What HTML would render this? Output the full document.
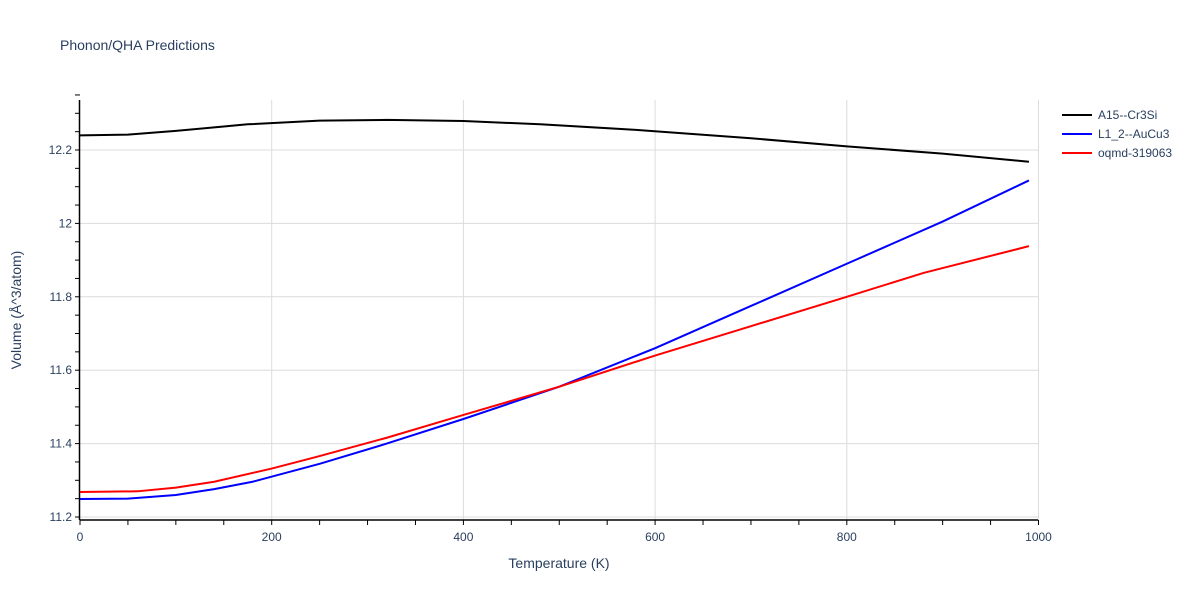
<!DOCTYPE html>
<html><head><meta charset="utf-8"><style>
body{margin:0;background:#fff;font-family:"Liberation Sans",sans-serif}
text{font-family:"Liberation Sans",sans-serif;fill:#2a3f5f}
</style></head><body>
<svg id="chart" width="1200" height="600">
<text x="60" y="50" font-size="14">Phonon/QHA Predictions</text>
<g id="grid"></g><g id="axes"></g><g id="series"></g>
<text x="559" y="568" font-size="14" text-anchor="middle">Temperature (K)</text>
<text transform="translate(21,310) rotate(-90)" font-size="14" text-anchor="middle">Volume (Å^3/atom)</text>
<g id="legend"></g>
</svg>
<script>
const xTicks=[0,200,400,600,800,1000];
const yTicks=[11.2,11.4,11.6,11.8,12,12.2];
const yTickLabels=["11.2","11.4","11.6","11.8","12","12.2"];
const names=["A15--Cr3Si","L1_2--AuCu3","oqmd-319063"];
const colors=["#000000","#0000ff","#ff0000"];
const tA=[0,50,100,175,250,320,400,480,580,700,800,900,990];
const vA=[12.240,12.242,12.252,12.270,12.280,12.282,12.279,12.270,12.255,12.232,12.210,12.190,12.168];
const tB=[0,50,100,140,180,250,320,400,500,600,700,800,900,990];
const vB=[11.249,11.250,11.260,11.276,11.296,11.345,11.400,11.467,11.555,11.660,11.775,11.890,12.005,12.117];
const tC=[0,60,100,140,200,250,320,400,500,600,700,800,880,990];
const vC=[11.268,11.270,11.280,11.296,11.332,11.366,11.416,11.478,11.555,11.640,11.720,11.800,11.865,11.938];
const NS="http://www.w3.org/2000/svg";
const X=t=>80+t*0.9585;
const Y=v=>517-(v-11.2)*367/1.0;
function mk(tag,parent,attrs){const e=document.createElementNS(NS,tag);for(const k in attrs)e.setAttribute(k,attrs[k]);document.getElementById(parent).appendChild(e);return e;}
xTicks.forEach(t=>{if(t>0){const l=mk('line','grid',{x1:X(t),x2:X(t),y1:100,y2:520,stroke:'#dcdcdc'});

}
const tx=mk('text','axes',{x:X(t),y:541,'font-size':12,'text-anchor':'middle'});tx.textContent=t;

});
yTicks.forEach((v,i)=>{const l=mk('line','grid',{x1:80,x2:1038,y1:Y(v),y2:Y(v),stroke:'#dcdcdc'});


const tx=mk('text','axes',{x:72,y:Y(v)+4,'font-size':12,'text-anchor':'end'});tx.textContent=yTickLabels[i];

});
for(let t=0;t<=1000;t+=50){const l=mk('line','axes',{x1:X(t),x2:X(t),y1:520,y2:525,stroke:'#000'});

}
for(let v=11.2;v<=12.36;v+=0.05){const l=mk('line','axes',{x1:75,x2:80,y1:Y(v),y2:Y(v),stroke:'#000'});

}
const xa=mk('line','axes',{x1:79.5,x2:1038,y1:520,y2:520,stroke:'#000','stroke-width':1.5});


const ya=mk('line','axes',{x1:79.5,x2:79.5,y1:100,y2:520,stroke:'#000','stroke-width':1.5});


[[tA,vA],[tB,vB],[tC,vC]].forEach((s,i)=>{const d=s[0].map((t,j)=>(j?'L':'M')+X(t)+','+Y(s[1][j])).join('');
const p=mk('path','series',{d:d,fill:'none',stroke:colors[i],'stroke-width':2});


const ly=115+i*19;
const g=mk('g','legend',{});


const ll=document.createElementNS(NS,'line');ll.setAttribute('x1',1062);ll.setAttribute('x2',1092);ll.setAttribute('y1',ly);ll.setAttribute('y2',ly);ll.setAttribute('stroke',colors[i]);ll.setAttribute('stroke-width',2);g.appendChild(ll);
const tx=document.createElementNS(NS,'text');tx.setAttribute('x',1098);tx.setAttribute('y',ly+4);tx.setAttribute('font-size',12);tx.textContent=names[i];g.appendChild(tx);});
</script>
</body></html>
